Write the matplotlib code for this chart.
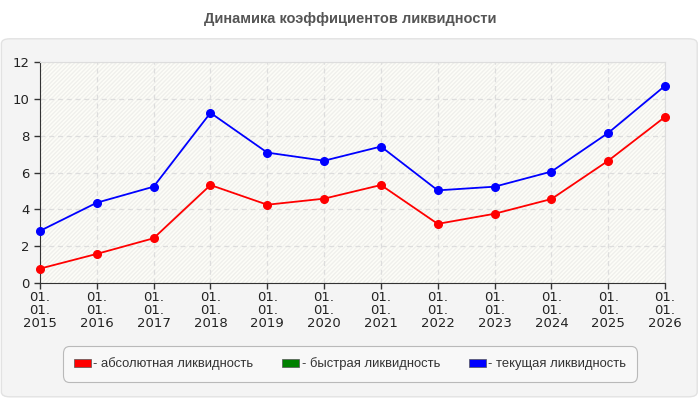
import numpy as np
import matplotlib.pyplot as plt
import matplotlib.patches as mpatches
from matplotlib.patches import FancyBboxPatch

plt.rcParams['font.family'] = ['Liberation Sans', 'DejaVu Sans']

years = ['2015', '2016', '2017', '2018', '2019', '2020',
         '2021', '2022', '2023', '2024', '2025', '2026']
tick_labels = ['01.\n01.\n' + y for y in years]
absolute = [0.78, 1.58, 2.43, 5.32, 4.25, 4.58, 5.32, 3.21, 3.76, 4.56, 6.64, 9.02]
quick = []  # no data for quick ratio
current = [2.83, 4.36, 5.23, 9.24, 7.08, 6.64, 7.41, 5.03, 5.23, 6.05, 8.15, 10.71]
series_names = ['- абсолютная ликвидность', '- быстрая ликвидность', '- текущая ликвидность']
series_colors = ['#ff0000', '#008000', '#0000ff']

fig = plt.figure(figsize=(7, 4), dpi=100)
fig.patch.set_facecolor('white')

# rounded panel behind the chart
panel = FancyBboxPatch((0.002, 0.008), 0.994, 0.895,
                       boxstyle='round,pad=0,rounding_size=0.012',
                       transform=fig.transFigure, facecolor='#f4f4f4',
                       edgecolor='#e2e2e2', linewidth=1, zorder=-10)
fig.patches.append(panel)

fig.text(0.5, 0.952, 'Динамика коэффициентов ликвидности', ha='center', va='center',
         fontsize=10.5, fontweight='bold', color='#555555')

ax = fig.add_axes([0.0571, 0.2925, 0.893, 0.5525])
ax.set_facecolor('#fdfdf8')
hatch = mpatches.Rectangle((0, 0), 1, 1, transform=ax.transAxes, facecolor='none',
                           edgecolor='#f0f0ec', hatch='////////', linewidth=0, zorder=0)
ax.add_patch(hatch)

x = np.arange(len(years))
ax.plot(x, absolute, color=series_colors[0], marker='o', markersize=5.5, linewidth=1.3,
        zorder=3, clip_on=False)
ax.plot(x, current, color=series_colors[2], marker='o', markersize=5.5, linewidth=1.3,
        zorder=3, clip_on=False)

ax.set_xlim(0, len(years) - 1)
ax.set_ylim(0, 12)
ax.set_yticks(range(0, 13, 2))
ax.set_xticks(x)
ax.set_xticklabels(tick_labels, linespacing=1.0)
ax.grid(True, color='#dddddd', linestyle=(0, (4, 3)), linewidth=0.9, zorder=1)
ax.set_axisbelow(True)

for side in ['top', 'right']:
    ax.spines[side].set_color('#dddddd')
for side in ['left', 'bottom']:
    ax.spines[side].set_color('#333333')
ax.tick_params(axis='both', colors='#333333', length=4, width=1, labelcolor='#222222')
ax.tick_params(axis='x', pad=2)
for lab in ax.get_xticklabels() + ax.get_yticklabels():
    lab.set_family('DejaVu Sans')
    lab.set_fontsize(9.5)

handles = [mpatches.Patch(facecolor=c, edgecolor='#555555', linewidth=0.5) for c in series_colors]
leg = fig.legend(handles, series_names, loc='center', bbox_to_anchor=(0.5, 0.09), ncol=3,
                 fontsize=9.4, frameon=True, fancybox=True, handlelength=1.3,
                 handleheight=0.6, handletextpad=0.2, columnspacing=2.2,
                 borderpad=0.85, borderaxespad=0)
frame = leg.get_frame()
frame.set_facecolor('#fafafa')
frame.set_edgecolor('#aaaaaa')
frame.set_linewidth(0.8)
frame.set_boxstyle('round,pad=0,rounding_size=0.5')
for t in leg.get_texts():
    t.set_color('#333333')

fig.savefig('out.png', dpi=100)
